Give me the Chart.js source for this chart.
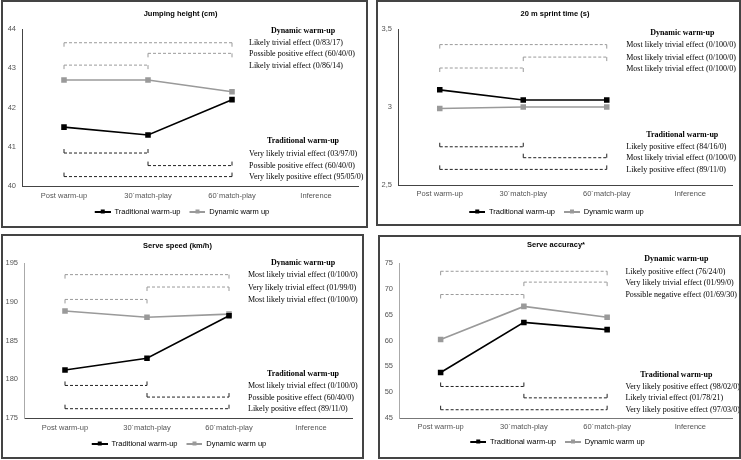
<!DOCTYPE html>
<html>
<head>
<meta charset="utf-8">
<script src="https://cdn.jsdelivr.net/npm/chart.js@4.4.0/dist/chart.umd.min.js"></script>
<style>
  body { margin: 0; background: #fff; width: 741px; height: 460px; position: relative; overflow: hidden; }
  .panel { position: absolute; box-sizing: border-box; border: 2px solid #444; background: #fff; overflow: hidden; }
  .panel canvas { position: absolute; left: 0; top: 0; }
</style>
</head>
<body>
<div class="panel" id="p1"><canvas id="c1"></canvas></div>
<div class="panel" id="p2"><canvas id="c2"></canvas></div>
<div class="panel" id="p3"><canvas id="c3"></canvas></div>
<div class="panel" id="p4"><canvas id="c4"></canvas></div>
<script>
// categories shared by all four charts
const categories = ['Post warm-up', '30\u00b4match-play', '60\u00b4match-play', 'Inference'];
const seriesNames = ['Traditional warm-up', 'Dynamic warm up'];

// which time points each bracket spans
const dynSpans = [[0, 2], [1, 2], [0, 1]];
const tradSpans = [[0, 1], [1, 2], [0, 2]];

// jumping height
const jumpTicks = [40, 41, 42, 43, 44];
const jumpTrad = [41.5, 41.3, 42.2];
const jumpDyn = [42.7, 42.7, 42.4];
const jumpDynBrackets = [43.65, 43.38, 43.08];
const jumpTradBrackets = [40.84, 40.52, 40.24];
const jumpDynText = ['Likely trivial effect (0/83/17)', 'Possible positive effect (60/40/0)', 'Likely trivial effect (0/86/14)'];
const jumpTradText = ['Very likely trivial effect (03/97/0)', 'Possible positive effect (60/40/0)', 'Very likely positive effect (95/05/0)'];

// sprint time
const sprintTicks = [2.5, 3, 3.5];
const sprintTrad = [3.11, 3.045, 3.045];
const sprintDyn = [2.99, 3.0, 3.0];
const sprintDynBrackets = [3.40, 3.32, 3.25];
const sprintTradBrackets = [2.745, 2.675, 2.60];
const sprintDynText = ['Most likely trivial effect (0/100/0)', 'Most likely trivial effect (0/100/0)', 'Most likely trivial effect (0/100/0)'];
const sprintTradText = ['Likely positive effect (84/16/0)', 'Most likely trivial effect (0/100/0)', 'Likely positive effect (89/11/0)'];

// serve speed
const speedTicks = [175, 180, 185, 190, 195];
const speedTrad = [181.2, 182.7, 188.2];
const speedDyn = [188.8, 188.0, 188.4];
const speedDynBrackets = [193.5, 191.9, 190.3];
const speedTradBrackets = [179.2, 177.7, 176.2];
const speedDynText = ['Most likely trivial effect (0/100/0)', 'Very likely trivial effect (01/99/0)', 'Most likely trivial effect (0/100/0)'];
const speedTradText = ['Most likely trivial effect (0/100/0)', 'Possible positive effect (60/40/0)', 'Likely positive effect (89/11/0)'];

// serve accuracy
const accTicks = [45, 50, 55, 60, 65, 70, 75];
const accTrad = [53.8, 63.5, 62.1];
const accDyn = [60.2, 66.6, 64.5];
const accDynBrackets = [73.4, 71.3, 68.9];
const accTradBrackets = [51.1, 48.9, 46.6];
const accDynText = ['Likely positive effect (76/24/0)', 'Very likely trivial effect (01/99/0)', 'Possible negative effect (01/69/30)'];
const accTradText = ['Very likely positive effect (98/02/0)', 'Likely trivial effect (01/78/21)', 'Very likely positive effect (97/03/0)'];

const black = '#000';
const grey = '#9a9a9a';

// small line + square marker for the legend (3px blank on the left)
function legendMarker(color) {
  const c = document.createElement('canvas');
  c.width = 19; c.height = 6;
  const g = c.getContext('2d');
  g.fillStyle = color;
  g.fillRect(3, 2, 16, 2);
  g.fillRect(9, 0.5, 4, 4);
  return c;
}
const markers = [legendMarker(black), legendMarker(grey)];

function bracketData(value, span) {
  const d = [null, null, null, null];
  for (let i = span[0]; i <= span[1]; i++) d[i] = value;
  return d;
}

// end ticks of the dashed brackets
const bracketTicks = {
  id: 'bracketTicks',
  afterDatasetsDraw(chart) {
    const ctx = chart.ctx;
    chart.data.datasets.forEach((ds, i) => {
      if (!ds.tickDir) return;
      const pts = chart.getDatasetMeta(i).data.filter((p, j) => ds.data[j] !== null);
      if (!pts.length) return;
      const ends = [pts[0], pts[pts.length - 1]];
      ctx.save();
      ctx.strokeStyle = ds.borderColor;
      ctx.lineWidth = 1;
      ends.forEach(p => {
        ctx.beginPath();
        ctx.moveTo(p.x, p.y);
        ctx.lineTo(p.x, p.y + ds.tickDir * 4);
        ctx.stroke();
      });
      ctx.restore();
    });
  }
};

// inference texts in the last column
const inferenceText = {
  id: 'inferenceText',
  afterDraw(chart) {
    const o = chart.options.plugins.inferenceText;
    const ctx = chart.ctx;
    const xs = chart.scales.x, ys = chart.scales.y;
    const xc = xs.getPixelForValue(3);
    ctx.save();
    ctx.fillStyle = '#000';
    ctx.textBaseline = 'middle';
    o.groups.forEach(gr => {
      const y0 = ys.getPixelForValue(gr.values[0]);
      ctx.font = 'bold 8px "Liberation Serif"';
      ctx.textAlign = 'center';
      ctx.fillText(gr.header, xc + o.headDx, y0 - 12);
      ctx.font = '8px "Liberation Serif"';
      ctx.textAlign = 'left';
      gr.lines.forEach((t, k) => {
        ctx.fillText(t, xc + o.lineDx, ys.getPixelForValue(gr.values[k]) + 0.5);
      });
    });
    ctx.restore();
  }
};

function makePanel(p) {
  const div = document.getElementById('p' + p.id);
  div.style.left = p.box.x + 'px';
  div.style.top = p.box.y + 'px';
  div.style.width = p.box.w + 'px';
  div.style.height = p.box.h + 'px';
  const ox = p.box.x + 2, oy = p.box.y + 2;
  const W = p.box.w - 4, H = p.box.h - 4 + 8;
  const cv = document.getElementById('c' + p.id);
  cv.width = W; cv.height = H;
  cv.style.width = W + 'px'; cv.style.height = H + 'px';

  const L = p.area.l - ox, T = p.area.t - oy, R = p.area.r - ox, B = p.area.b - oy;
  const titleTop = T - p.titleGap - 4.5;
  const lp = 6;
  const legendTop = B + p.legendGap - lp - 3.75;
  const legendH = 7.5 + lp + 10;

  const datasets = [
    { label: seriesNames[0], data: p.trad, borderColor: black, backgroundColor: black, borderWidth: 1.6,
      pointStyle: 'rect', pointRadius: 2.8, pointHoverRadius: 2.8 },
    { label: seriesNames[1], data: p.dyn, borderColor: grey, backgroundColor: grey, borderWidth: 1.6,
      pointStyle: 'rect', pointRadius: 2.8, pointHoverRadius: 2.8 }
  ];
  p.dynBr.forEach((v, k) => datasets.push({ data: bracketData(v, dynSpans[k]), borderColor: grey,
    borderWidth: 1, borderDash: [3, 2], pointRadius: 0, tickDir: 1 }));
  p.tradBr.forEach((v, k) => datasets.push({ data: bracketData(v, tradSpans[k]), borderColor: '#222',
    borderWidth: 1, borderDash: [3, 2], pointRadius: 0, tickDir: -1 }));

  const ticks = p.ticks;
  new Chart(cv, {
    type: 'line',
    data: { labels: categories, datasets: datasets },
    options: {
      responsive: false,
      animation: false,
      layout: { padding: { left: 0, right: W - R, top: 0, bottom: Math.max(0, H - legendTop - legendH) } },
      plugins: {
        title: { display: true, text: p.title, color: '#000',
          font: { family: 'Liberation Sans', size: 7.5, weight: 'bold' },
          padding: { top: titleTop, bottom: T - titleTop - 9 } },
        legend: { position: 'bottom',
          labels: { usePointStyle: true, pointStyleWidth: 19, padding: lp, color: '#000',
            font: { family: 'Liberation Sans', size: 7.5 },
            generateLabels(chart) {
              const items = Chart.defaults.plugins.legend.labels.generateLabels(chart);
              return items.filter(it => it.datasetIndex < 2).map(it => {
                it.pointStyle = markers[it.datasetIndex];
                return it;
              });
            } } },
        tooltip: { enabled: false },
        inferenceText: { lineDx: p.lineDx, headDx: p.headDx, groups: [
          { header: 'Dynamic warm-up', values: p.dynBr, lines: p.dynText },
          { header: 'Traditional warm-up', values: p.tradBr, lines: p.tradText }
        ] }
      },
      scales: {
        x: {
          offset: true,
          grid: { display: false, drawTicks: false, offset: true },
          border: { display: true, color: p.xColor, width: 1 },
          ticks: { color: '#555', padding: p.labelGap - 4.5, font: { family: 'Liberation Sans', size: 7.5 } },
          afterFit(s) { s.height = legendTop - B; }
        },
        y: {
          min: ticks[0], max: ticks[ticks.length - 1], afterBuildTicks(s) { s.ticks = ticks.map(v => ({ value: v })); },
          grid: { display: false, drawTicks: false },
          border: { display: true, color: p.yColor, width: 1 },
          ticks: { color: '#555', padding: 6, font: { family: 'Liberation Sans', size: 7.5 },
            callback: v => String(v).replace('.', ',') },
          afterFit(s) { s.width = L; }
        }
      }
    },
    plugins: [bracketTicks, inferenceText]
  });
}

makePanel({ id: 1, title: 'Jumping height (cm)', box: { x: 1, y: 0, w: 367, h: 228 }, area: { l: 22, t: 29, r: 358, b: 186 },
  titleGap: 15, legendGap: 26, labelGap: 10, xColor: '#444', yColor: '#444', lineDx: -67, headDx: -13, ticks: jumpTicks,
  trad: jumpTrad, dyn: jumpDyn, dynBr: jumpDynBrackets, tradBr: jumpTradBrackets, dynText: jumpDynText, tradText: jumpTradText });
makePanel({ id: 2, title: '20 m sprint time (s)', box: { x: 376, y: 0, w: 365, h: 226 }, area: { l: 398, t: 29, r: 732, b: 185 },
  titleGap: 15, legendGap: 27, labelGap: 9, xColor: '#444', yColor: '#444', lineDx: -64, headDx: -8, ticks: sprintTicks,
  trad: sprintTrad, dyn: sprintDyn, dynBr: sprintDynBrackets, tradBr: sprintTradBrackets, dynText: sprintDynText, tradText: sprintTradText });
makePanel({ id: 3, title: 'Serve speed (km/h)', box: { x: 1, y: 234, w: 363, h: 225 }, area: { l: 24, t: 263, r: 352, b: 418 },
  titleGap: 17, legendGap: 26, labelGap: 10, xColor: '#444', yColor: '#aaa', lineDx: -63, headDx: -8, ticks: speedTicks,
  trad: speedTrad, dyn: speedDyn, dynBr: speedDynBrackets, tradBr: speedTradBrackets, dynText: speedDynText, tradText: speedTradText });
makePanel({ id: 4, title: 'Serve accuracy*', box: { x: 378, y: 235, w: 363, h: 224 }, area: { l: 399, t: 263, r: 732, b: 418 },
  titleGap: 18, legendGap: 24, labelGap: 9, xColor: '#777', yColor: '#aaa', lineDx: -65, headDx: -14, ticks: accTicks,
  trad: accTrad, dyn: accDyn, dynBr: accDynBrackets, tradBr: accTradBrackets, dynText: accDynText, tradText: accTradText });
</script>
</body>
</html>
